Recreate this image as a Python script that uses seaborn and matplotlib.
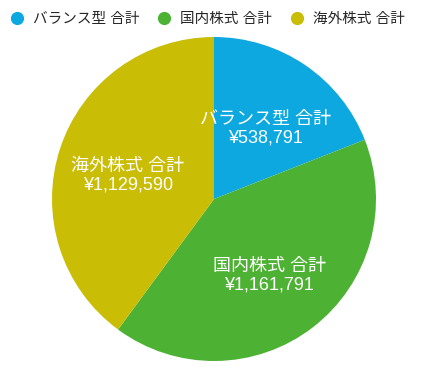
import matplotlib.pyplot as plt
from matplotlib.lines import Line2D
import seaborn as sns

# データ
categories = ['バランス型 合計', '国内株式 合計', '海外株式 合計']
values = [538791, 1161791, 1129590]
colors = ['#0DA8E0', '#4DB233', '#C9BD06']

sns.set_theme(style="white")
plt.rcParams['font.family'] = ['Liberation Sans', 'Noto Sans CJK JP']

fig = plt.figure(figsize=(4.31, 3.77), dpi=100)
ax = fig.add_axes([52 / 431, 16 / 377, 324 / 431, 324 / 377])

labels = [f"{c}\n¥{v:,}" for c, v in zip(categories, values)]
wedges, texts = ax.pie(values, labels=labels, colors=colors, startangle=90,
                       counterclock=False, labeldistance=0.56,
                       wedgeprops=dict(linewidth=0),
                       textprops=dict(color='white', fontsize=13, ha='center',
                                      va='center', linespacing=1.1))
# ラベルを少し下へ
for t in texts:
    x, y = t.get_position()
    t.set_position((x, y - 0.03))
ax.set_xlim(-1, 1)
ax.set_ylim(-1, 1)

handles = [Line2D([], [], marker='o', linestyle='', markersize=9.5,
                  markerfacecolor=c, markeredgewidth=0) for c in colors]
fig.legend(handles, categories, loc='center left', bbox_to_anchor=(10 / 431, 1 - 19 / 377),
           ncol=3, frameon=False, fontsize=10.5, handlelength=1.0, handletextpad=0.58,
           columnspacing=1.2, borderaxespad=0, borderpad=0)

fig.savefig('out.png', dpi=100)
